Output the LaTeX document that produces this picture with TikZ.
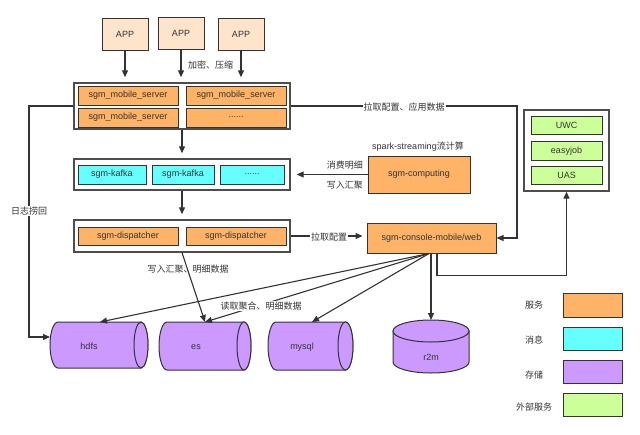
\documentclass[tikz,border=0pt]{standalone}
\usepackage{fontspec}
\setmainfont{Liberation Sans}
\newfontfamily\cjk{Noto Sans CJK SC}
\usetikzlibrary{arrows.meta,calc}
\definecolor{appc}{HTML}{FDE4CB}
\definecolor{svcc}{HTML}{FFB366}
\definecolor{msgc}{HTML}{66FFFF}
\definecolor{stoc}{HTML}{CC99FF}
\definecolor{extc}{HTML}{CCFF99}
\definecolor{ink}{HTML}{333333}
\definecolor{frame}{HTML}{4D4D4D}
\begin{document}
\begin{tikzpicture}[x=1pt,y=-1pt,
  font=\fontsize{9}{11}\selectfont, text=ink,
  base/.style={draw=ink, line width=1pt, inner sep=0pt},
  appbox/.style={base, fill=appc, minimum width=46pt, minimum height=32pt},
  svc/.style={base, fill=svcc},
  msg/.style={base, fill=msgc},
  extb/.style={base, fill=extc},
  grp/.style={draw=frame, line width=1.4pt, fill=white, inner sep=0pt},
  arr/.style={draw=ink, line width=1.1pt, -{Triangle[length=7pt,width=6pt]}},
  ln/.style={draw=ink, line width=1.1pt},
  lbl/.style={font=\fontsize{9}{11}\selectfont\cjk, text=ink, inner sep=1pt},
  cyl/.style={fill=stoc, draw=ink, line width=1pt},
]
\useasboundingbox (0,0) rectangle (640,434);

% APP nodes
\node[appbox] (app1) at (125,34) {APP};
\node[appbox] (app2) at (181,33) {APP};
\node[appbox] (app3) at (241,34) {APP};

% mobile server group
\node[grp, minimum width=216pt, minimum height=46pt] (mob) at (182,106) {};
\node[svc, minimum width=100pt, minimum height=19pt] (ms1) at (128,95.5) {sgm\_mobile\_server};
\node[svc, minimum width=100pt, minimum height=19pt] (ms2) at (236,95.5) {sgm\_mobile\_server};
\node[svc, minimum width=100pt, minimum height=19pt] (ms3) at (128,117.5) {sgm\_mobile\_server};
\node[svc, minimum width=100pt, minimum height=19pt] (ms4) at (236,117.5) {......};

% kafka group
\node[grp, minimum width=216pt, minimum height=31pt] (kaf) at (182,174.5) {};
\node[msg, minimum width=68pt, minimum height=19pt] (k1) at (112,174.5) {sgm-kafka};
\node[msg, minimum width=62pt, minimum height=19pt] (k2) at (183,174.5) {sgm-kafka};
\node[msg, minimum width=64pt, minimum height=19pt] (k3) at (252,174.5) {......};

% dispatcher group
\node[grp, minimum width=216pt, minimum height=32pt] (dis) at (182,236) {};
\node[svc, minimum width=100pt, minimum height=18pt] (d1) at (128,236) {sgm-dispatcher};
\node[svc, minimum width=100pt, minimum height=18pt] (d2) at (236,236) {sgm-dispatcher};

% computing
\node[svc, minimum width=102pt, minimum height=37pt] (comp) at (419,174.5) {sgm-computing};
\node[inner sep=0pt, text=ink] (spark) at (418,147) {spark-streaming{\cjk 流计算}};

% console
\node[svc, minimum width=129pt, minimum height=30pt] (con) at (431.5,238) {sgm-console-mobile/web};

% external services
\node[grp, minimum width=85pt, minimum height=81pt] (ext) at (566.5,150.5) {};
\node[extb, minimum width=71pt, minimum height=18pt] (e1) at (566.5,125) {UWC};
\node[extb, minimum width=71pt, minimum height=19pt] (e2) at (566.5,151) {easyjob};
\node[extb, minimum width=71pt, minimum height=18pt] (e3) at (566.5,175) {UAS};

% storage cylinders
\path[cyl] (141,322) -- (58,322) arc[start angle=270,end angle=90,x radius=8,y radius=23] -- (141,368) arc[start angle=90,end angle=-90,x radius=7,y radius=23] -- cycle;
\draw[cyl] (141,345) ellipse[x radius=7,y radius=23];
\node[inner sep=0pt] (hdfs) at (89,346) {hdfs};

\path[cyl] (244,322) -- (167,322) arc[start angle=270,end angle=90,x radius=8,y radius=24] -- (244,370) arc[start angle=90,end angle=-90,x radius=7,y radius=24] -- cycle;
\draw[cyl] (244,346) ellipse[x radius=7,y radius=24];
\node[inner sep=0pt] (es) at (196,347) {es};

\path[cyl] (345.5,322) -- (276,322) arc[start angle=270,end angle=90,x radius=8,y radius=24] -- (345.5,370) arc[start angle=90,end angle=-90,x radius=7.5,y radius=24] -- cycle;
\draw[cyl] (345.5,346) ellipse[x radius=7.5,y radius=24];
\node[inner sep=0pt] (mysql) at (302,347) {mysql};

\path[cyl] (393,331) -- (393,362) arc[start angle=180,end angle=0,x radius=38,y radius=11] -- (469,331) -- cycle;
\draw[cyl] (431,331) ellipse[x radius=38,y radius=11];
\node[inner sep=0pt] (r2m) at (431,357) {r2m};

\coordinate (hdfsW) at (50,337);
\coordinate (hdfsT) at (100,322);
\coordinate (esT) at (205,322);
\coordinate (mysqlT) at (312,322);
\coordinate (r2mT) at (431,320);
\coordinate (fan) at ($(con.south)+(-2.5,0)$);

% connectors
\draw[arr, shorten >=5pt] (app1) -- (app1 |- mob.north);
\draw[arr, shorten >=5pt] (app2) -- (app2 |- mob.north);
\draw[arr, shorten >=5pt] (app3) -- (app3 |- mob.north);
\node[lbl, anchor=west] (enc) at (187,65) {加密、压缩};

\draw[arr, shorten >=5pt] (mob.south) -- (kaf.north);
\draw[arr, shorten >=5pt] (kaf.south) -- (dis.north);

\draw[arr] (mob.west) -| (29,337) -- (hdfsW);
\node[lbl, fill=white] (logback) at (29,211) {日志捞回};

\draw[arr] (mob.east) -| (517,238) -- (con.east);
\node[lbl, fill=white] (pull1) at (404,107) {拉取配置、应用数据};

\draw[arr, shorten >=6pt] (comp.west) -- (kaf.east |- comp.west);
\node[lbl, anchor=east] (consume) at (364,165) {消费明细};
\node[lbl, anchor=east] (writeagg) at (364,185) {写入汇聚};

\draw[arr, shorten >=4pt] (dis.east) -- (con.west |- dis.east);
\node[lbl, fill=white] (pull2) at (329,237) {拉取配置};

\draw[arr] ($(con.south)+(5.5,0)$) -- ++(0,22) -| (ext.south);

\draw[arr] (dis.south) -- (esT);
\node[lbl] (writedet) at (188,269) {写入汇聚、明细数据};

\draw[arr] (fan) -- (hdfsT);
\draw[arr] (fan) -- (esT);
\draw[arr] (fan) -- (mysqlT);
\draw[arr] (con.south -| r2mT) -- (r2mT);
\node[lbl, fill=white] (readagg) at (261,306) {读取聚合、明细数据};

% legend
\node[svc, minimum width=59pt, minimum height=24pt] (lg1) at (592.5,305) {};
\node[msg, minimum width=59pt, minimum height=23pt] (lg2) at (592.5,338.5) {};
\node[base, fill=stoc, minimum width=59pt, minimum height=23pt] (lg3) at (592.5,371.5) {};
\node[extb, minimum width=59pt, minimum height=23pt] (lg4) at (592.5,404.5) {};
\node[lbl] (lt1) at (534,305) {服务};
\node[lbl] (lt2) at (534,340) {消息};
\node[lbl] (lt3) at (534,375) {存储};
\node[lbl] (lt4) at (534,407) {外部服务};
\end{tikzpicture}
\end{document}
